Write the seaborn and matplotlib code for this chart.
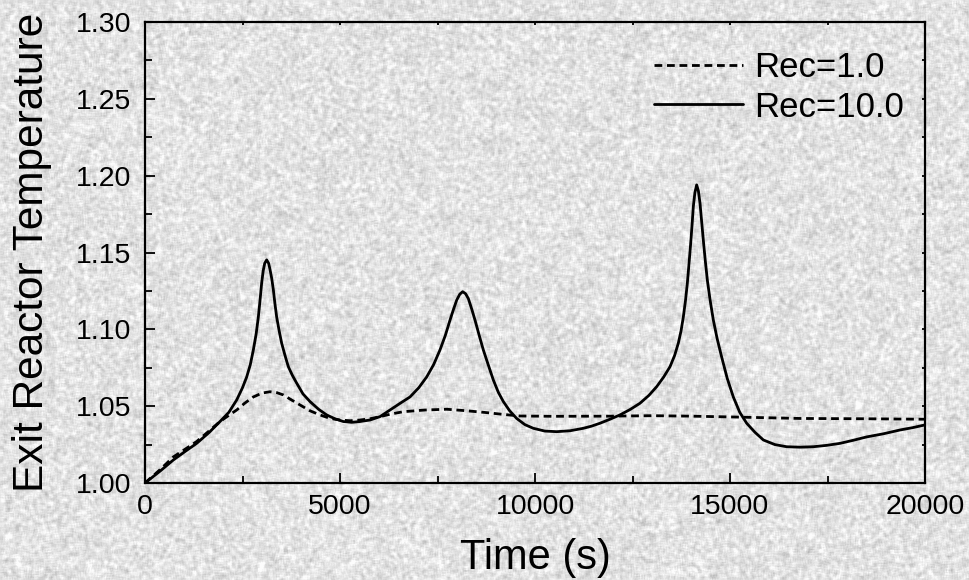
import numpy as np
import pandas as pd
import matplotlib
matplotlib.use("Agg")
import matplotlib.pyplot as plt
from matplotlib.ticker import MultipleLocator, FormatStrFormatter
import seaborn as sns

# Exit reactor temperature (dimensionless) versus time for two recycle ratios
time_rec1 = [0, 400, 727, 1000, 1325, 1650, 1923, 2150, 2350, 2560, 2778,
             3000, 3205, 3380, 3547, 3760, 3974, 4230, 4487, 4750, 5000,
             5260, 5513, 5770, 6026, 6330, 6624, 7180, 7735, 8250, 8761,
             9200, 9615, 10500, 11923, 13000, 14000, 15000, 16800, 18500,
             20000]
temp_rec1 = [1.000, 1.009, 1.017, 1.0215, 1.027, 1.034, 1.040, 1.044,
             1.0475, 1.052, 1.056, 1.0585, 1.0594, 1.0588, 1.0573, 1.054,
             1.0508, 1.047, 1.0443, 1.042, 1.041, 1.0405, 1.041, 1.0418,
             1.0432, 1.045, 1.0464, 1.0475, 1.048, 1.047, 1.0458, 1.0446,
             1.0436, 1.0434, 1.0435, 1.0438, 1.0435, 1.0430, 1.042, 1.0418,
             1.0415]

time_rec10 = [0, 400, 727, 1000, 1325, 1650, 1923, 2150, 2350, 2500, 2607,
              2700, 2778, 2850, 2906, 2950, 2991, 3030, 3070, 3120, 3170,
              3205, 3250, 3291, 3330, 3376, 3440, 3504, 3590, 3675, 3780,
              3889, 4050, 4231, 4450, 4658, 4870, 5085, 5300, 5513, 5770,
              6026, 6282, 6550, 6795, 7020, 7222, 7400, 7564, 7700, 7821,
              7910, 7992, 8070, 8145, 8220, 8291, 8380, 8462, 8570, 8675,
              8800, 8932, 9060, 9188, 9350, 9530, 9740, 9957, 10250, 10556,
              10900, 11239, 11450, 11667, 11923, 12179, 12450, 12692, 12920,
              13120, 13300, 13462, 13580, 13675, 13745, 13803, 13860, 13906,
              13950, 13992, 14030, 14060, 14100, 14145, 14190, 14231, 14270,
              14316, 14365, 14419, 14490, 14573, 14670, 14786, 14930, 15085,
              15250, 15427, 15640, 15855, 16150, 16453, 16800, 17137, 17480,
              17821, 18160, 18505, 18930, 19359, 19680, 20000]
temp_rec10 = [1.000, 1.008, 1.015, 1.020, 1.0258, 1.033, 1.040, 1.046,
              1.054, 1.062, 1.069, 1.077, 1.0866, 1.097, 1.108, 1.119, 1.130,
              1.138, 1.143, 1.1452, 1.143, 1.139, 1.133, 1.1257, 1.117,
              1.108, 1.099, 1.091, 1.083, 1.0757, 1.070, 1.065, 1.058, 1.053,
              1.048, 1.0443, 1.0418, 1.040, 1.0395, 1.040, 1.041, 1.0432,
              1.0475, 1.052, 1.056, 1.062, 1.069, 1.077, 1.0866, 1.096,
              1.106, 1.113, 1.119, 1.1228, 1.1245, 1.1232, 1.120, 1.113,
              1.106, 1.096, 1.0866, 1.077, 1.067, 1.059, 1.053, 1.047, 1.042,
              1.038, 1.0356, 1.0338, 1.0334, 1.0340, 1.0356, 1.037, 1.0389,
              1.0415, 1.0443, 1.048, 1.0519, 1.057, 1.0627, 1.069, 1.0757,
              1.083, 1.091, 1.099, 1.108, 1.119, 1.130, 1.143, 1.156, 1.169,
              1.180, 1.189, 1.194, 1.190, 1.182, 1.171, 1.158, 1.145, 1.132,
              1.119, 1.106, 1.094, 1.082, 1.068, 1.056, 1.046, 1.0389, 1.033,
              1.028, 1.025, 1.0236, 1.0233, 1.0236, 1.0245, 1.0258, 1.0278,
              1.030, 1.032, 1.0345, 1.036, 1.0378]

series_labels = ["Rec=1.0", "Rec=10.0"]

df = pd.concat([
    pd.DataFrame({"Time": time_rec1, "Temp": temp_rec1, "Case": series_labels[0]}),
    pd.DataFrame({"Time": time_rec10, "Temp": temp_rec10, "Case": series_labels[1]}),
], ignore_index=True)

sns.set_theme(style="ticks")
plt.rcParams["font.family"] = ["Liberation Sans", "DejaVu Sans"]
plt.rcParams.update({"text.color": "black", "axes.labelcolor": "black",
                     "xtick.color": "black", "ytick.color": "black"})

fig = plt.figure(figsize=(9.69, 5.80), dpi=100)

# speckled light-grey paper backdrop
rng = np.random.default_rng(7)
h, w = 580, 969
noise = rng.normal(0.0, 1.0, (h, w))
k = np.ones(4) / 4.0
noise = np.apply_along_axis(lambda r: np.convolve(r, k, mode="same"), 1, noise)
noise = np.apply_along_axis(lambda c: np.convolve(c, k, mode="same"), 0, noise)
noise /= noise.std()
tex = np.clip(0.89 + 0.042 * noise, 0.72, 0.99)
fig.figimage(np.dstack([tex, tex, tex]), xo=0, yo=0, zorder=-5)

ax = fig.add_axes([145 / 969, 97 / 580, 780 / 969, 461 / 580])
ax.set_zorder(2)
ax.patch.set_alpha(0.0)

sns.lineplot(data=df, x="Time", y="Temp", hue="Case", style="Case",
             hue_order=series_labels, style_order=series_labels,
             palette=["black", "black"],
             dashes={series_labels[0]: (2.8, 1.7), series_labels[1]: ""},
             linewidth=2.0, sort=True, estimator=None, ax=ax)

ax.set_xlim(0, 20000)
ax.set_ylim(1.00, 1.30)
ax.xaxis.set_major_locator(MultipleLocator(5000))
ax.xaxis.set_minor_locator(MultipleLocator(2500))
ax.yaxis.set_major_locator(MultipleLocator(0.05))
ax.yaxis.set_minor_locator(MultipleLocator(0.025))
ax.yaxis.set_major_formatter(FormatStrFormatter("%.2f"))

for s in ax.spines.values():
    s.set_color("black")
    s.set_linewidth(1.6)

ax.tick_params(which="major", direction="in", length=7, width=1.3,
               labelsize=20.5, colors="black")
ax.tick_params(which="minor", direction="in", length=5, width=1.3)
ax.tick_params(axis="y", which="major", pad=10)
ax.tick_params(axis="x", which="major", pad=8)
ax.tick_params(which="both", top=True, right=True)
# top and right axes carry only stub ticks
for t in ax.xaxis.get_ticklines(minor=False)[1::2] + ax.xaxis.get_ticklines(minor=True)[1::2]:
    t.set_markersize(2)
for t in ax.yaxis.get_ticklines(minor=False)[1::2] + ax.yaxis.get_ticklines(minor=True)[1::2]:
    t.set_markersize(2)

ax.set_xlabel("Time (s)", fontsize=30, labelpad=13)
ax.set_ylabel("Exit Reactor Temperature", fontsize=30.5, labelpad=17)

leg = ax.legend(loc="upper right", bbox_to_anchor=(1.0, 0.983),
                frameon=False, fontsize=25,
                handlelength=2.55, handletextpad=0.33, labelspacing=0.2,
                borderaxespad=0.2)
for line in leg.get_lines():
    line.set_linewidth(2.0)

fig.savefig("out.png", dpi=100)
